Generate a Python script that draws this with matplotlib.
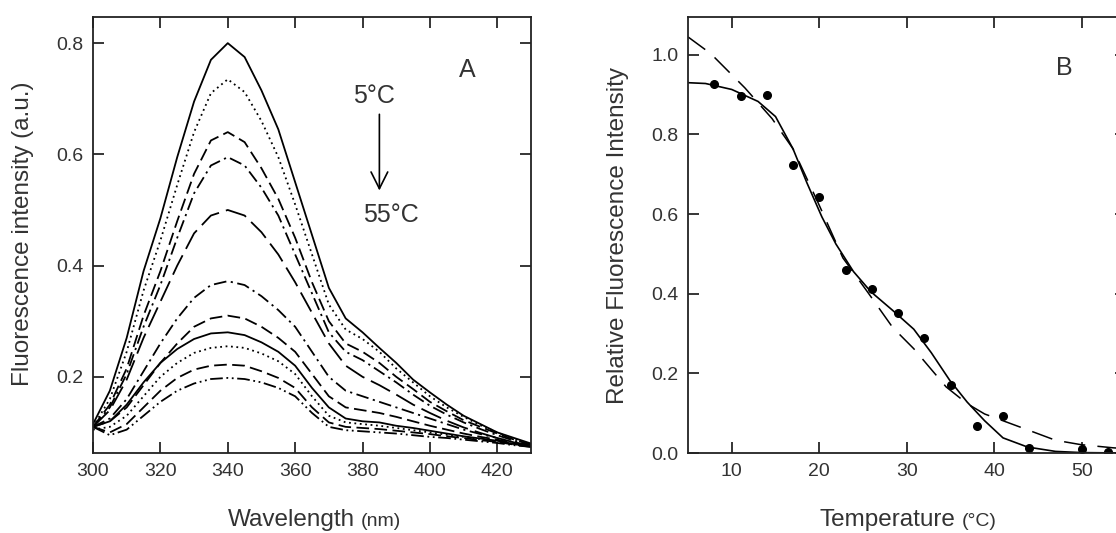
import matplotlib
matplotlib.use("Agg")
import matplotlib.pyplot as plt
import numpy as np

plt.rcParams['font.family'] = ['Liberation Sans', 'DejaVu Sans']

# ---- panel A: emission spectra, 5 to 55 C ----
wavelength = [300, 305, 310, 315, 320, 325, 330, 335, 340, 345, 350, 355, 360,
              365, 370, 375, 380, 385, 390, 395, 400, 405, 410, 415, 420, 425, 430]

spec_5C = [.115, .175, .27, .39, .485, .595, .695, .77, .80, .775, .715, .645, .55,
           .455, .36, .305, .28, .252, .225, .195, .172, .15, .13, .115, .10, .09, .08]
spec_10C = [.11, .16, .245, .355, .445, .545, .64, .71, .735, .712, .66, .595, .51,
            .42, .33, .285, .268, .245, .215, .19, .165, .145, .128, .113, .10, .088, .078]
spec_15C = [.11, .15, .215, .31, .39, .48, .565, .625, .64, .622, .575, .52, .45,
            .37, .30, .26, .245, .225, .20, .178, .155, .138, .122, .11, .098, .087, .078]
spec_20C = [.11, .145, .205, .29, .365, .45, .53, .58, .595, .58, .54, .49, .42,
            .35, .28, .245, .23, .21, .19, .168, .148, .132, .118, .106, .095, .085, .077]
spec_25C = [.11, .14, .195, .27, .335, .40, .458, .49, .50, .49, .46, .42, .37,
            .315, .26, .22, .20, .185, .168, .15, .135, .121, .109, .099, .09, .082, .076]
spec_30C = [.11, .125, .16, .21, .26, .305, .342, .365, .372, .365, .345, .32, .29,
            .245, .20, .175, .165, .155, .145, .135, .125, .115, .105, .097, .09, .082, .076]
spec_35C = [.11, .12, .145, .185, .225, .26, .29, .305, .31, .305, .29, .27, .245,
            .205, .165, .145, .14, .135, .128, .12, .112, .105, .098, .092, .087, .08, .075]
spec_40C = [.11, .12, .15, .19, .225, .25, .268, .278, .28, .275, .262, .245, .22,
            .18, .145, .125, .12, .118, .112, .108, .103, .098, .093, .089, .085, .079, .075]
spec_45C = [.105, .11, .13, .165, .20, .225, .243, .252, .255, .252, .242, .228, .205,
            .165, .13, .118, .115, .112, .108, .104, .10, .096, .092, .088, .084, .079, .075]
spec_50C = [.11, .10, .115, .145, .175, .198, .213, .22, .222, .22, .21, .198, .18,
            .145, .118, .11, .108, .106, .103, .10, .097, .093, .09, .086, .083, .078, .074]
spec_55C = [.11, .095, .105, .13, .155, .175, .188, .196, .198, .196, .19, .18, .165,
            .135, .11, .104, .102, .10, .098, .095, .092, .09, .087, .084, .081, .077, .074]

spectra = [spec_5C, spec_10C, spec_15C, spec_20C, spec_25C, spec_30C,
           spec_35C, spec_40C, spec_45C, spec_50C, spec_55C]

# ---- panel B: relative intensity vs temperature ----
temp_pts = [8, 11, 14, 17, 20, 23, 26, 29, 32, 35, 38, 41, 44, 50, 53]
rel_pts = [0.926, 0.896, 0.90, 0.723, 0.642, 0.459, 0.412, 0.352, 0.288, 0.17,
           0.068, 0.094, 0.013, 0.009, 0.003]

fit1_t = [5, 7, 10, 13, 15, 17, 18.6, 20.3, 21.9, 23.9, 25.9, 28.4, 30.8, 32.8,
          34.9, 36.9, 38.9, 41, 43.8, 47, 50, 55]
fit1_y = [0.93, 0.928, 0.913, 0.883, 0.845, 0.764, 0.678, 0.593, 0.525, 0.456,
          0.405, 0.358, 0.311, 0.252, 0.183, 0.128, 0.081, 0.038, 0.015, 0.004, 0.001, 0.0]

fit2_t = [5, 7.6, 11.5, 14.6, 17, 19.9, 22.7, 25.5, 28.4, 30.8, 32.8, 34.5, 36.9,
          38.9, 41, 44.2, 47, 49.9, 53.6, 55]
fit2_y = [1.045, 1.003, 0.917, 0.84, 0.764, 0.627, 0.49, 0.405, 0.315, 0.262, 0.21,
          0.166, 0.124, 0.098, 0.081, 0.055, 0.032, 0.021, 0.013, 0.011]

W, H = 1116, 533
fig = plt.figure(figsize=(W / 100, H / 100), dpi=100)
axA = fig.add_axes([93 / W, 80 / H, 438 / W, 436 / H])
axB = fig.add_axes([688 / W, 80 / H, 437.5 / W, 436 / H])

styles = ['-', (0, (1, 2)), (0, (7, 3)), (0, (7, 2.5, 1.2, 2.5)), (0, (12, 4)),
          (0, (7, 2.5, 1.2, 2.5)), (0, (7, 3)), '-', (0, (1, 2)), (0, (7, 3)),
          (0, (7, 2, 1, 2, 1, 2))]
for spec, ls in zip(spectra, styles):
    axA.plot(wavelength, spec, color='black', lw=1.3, linestyle=ls)

axA.set_xlim(300, 430)
axA.set_ylim(0.063, 0.847)
axA.set_xticks([300, 320, 340, 360, 380, 400, 420])
axA.set_yticks([0.2, 0.4, 0.6, 0.8])

axA.annotate('', xy=(385, 0.530), xytext=(385, 0.677),
             arrowprops=dict(arrowstyle='->', lw=1.2, color='black',
                             mutation_scale=30))
axA.text(383.3, 0.705, '5°C', fontsize=18, ha='center', va='center', color='#333333')
axA.text(388.5, 0.491, '55°C', fontsize=18, ha='center', va='center', color='#333333')
axA.text(411.2, 0.751, 'A', fontsize=18, ha='center', va='center', color='#333333')

axB.plot(fit1_t, fit1_y, color='black', lw=1.2)
axB.plot(fit2_t, fit2_y, color='black', lw=1.1, dashes=(14, 8))
axB.plot(temp_pts, rel_pts, 'o', color='black', ms=5.5)
axB.set_xlim(5, 55)
axB.set_ylim(0, 1.095)
axB.set_xticks([10, 20, 30, 40, 50])
axB.set_yticks([0.0, 0.2, 0.4, 0.6, 0.8, 1.0])
axB.text(48, 0.967, 'B', fontsize=18, ha='center', va='center', color='#333333')

for ax in (axA, axB):
    ax.tick_params(direction='in', length=8, width=1.1, top=True, right=True,
                   labelsize=14, labelcolor='#333333', pad=7)
    ax.yaxis.set_major_formatter(plt.FormatStrFormatter('%.1f'))
    for sp in ax.spines.values():
        sp.set_linewidth(1.3)
        sp.set_color('#222222')

# axis labels (big word + smaller unit)
lab = dict(color='#333333', va='baseline')
fig.text(355 / W, 1 - 526 / H, 'Wavelength', fontsize=17.5, ha='right', **lab)
fig.text(361 / W, 1 - 526 / H, '(nm)', fontsize=14, ha='left', **lab)
fig.text(955 / W, 1 - 526 / H, 'Temperature', fontsize=17.5, ha='right', **lab)
fig.text(962 / W, 1 - 526 / H, '(°C)', fontsize=14, ha='left', **lab)
fig.text(23 / W, 1 - 234 / H, 'Fluorescence intensity (a.u.)', fontsize=17.5,
         rotation=90, ha='center', va='center', color='#333333')
fig.text(618 / W, 1 - 235 / H, 'Relative Fluorescence Intensity', fontsize=17.5,
         rotation=90, ha='center', va='center', color='#333333')

fig.savefig('out.png', dpi=100)
